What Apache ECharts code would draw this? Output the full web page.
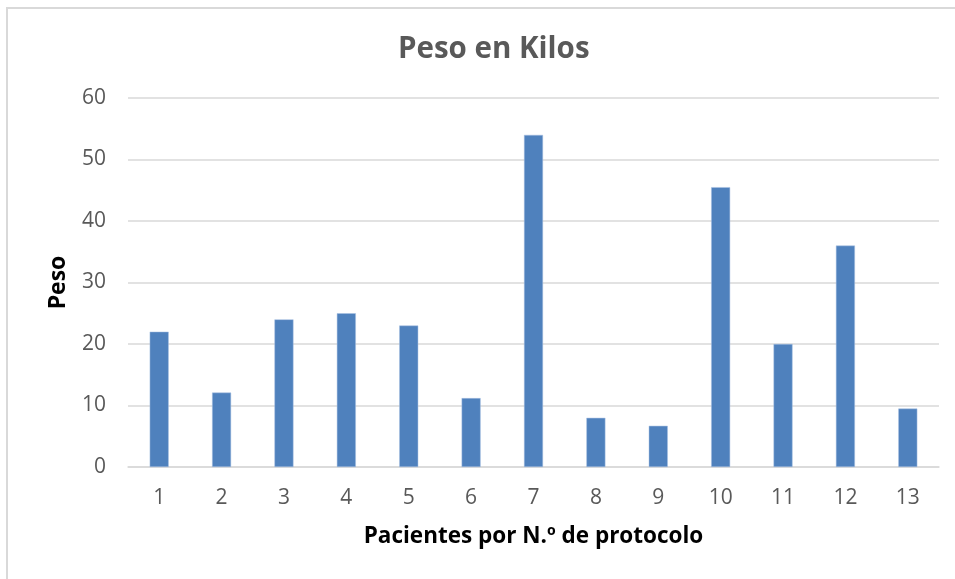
<!DOCTYPE html>
<html>
<head>
<meta charset="utf-8">
<script src="https://cdn.jsdelivr.net/npm/echarts@6/dist/echarts.min.js"></script>
<style>
  html, body { margin: 0; padding: 0; background: #fff; }
  #chart { width: 955px; height: 579px; }
</style>
</head>
<body>
<div id="chart"></div>
<script>
  const categories = ['1', '2', '3', '4', '5', '6', '7', '8', '9', '10', '11', '12', '13'];
  const pesoValues = [22, 12.1, 24, 25, 23, 11.2, 54, 8, 6.7, 45.5, 20, 36, 9.5];
  const yTicks = { min: 0, max: 60, interval: 10 };

  const chart = echarts.init(document.getElementById('chart'), null, { renderer: 'canvas' });

  const font = '"Open Sans", sans-serif';

  const option = {
    backgroundColor: '#fff',
    animation: false,
    graphic: [
      {
        type: 'rect',
        shape: { x: 7, y: 8, width: 1000, height: 1000 },
        style: { fill: 'none', stroke: '#d9d9d9', lineWidth: 2 },
        silent: true,
      },
    ],
    title: {
      text: 'Peso en Kilos',
      left: 393,
      top: 30,
      textStyle: {
        fontFamily: font,
        fontSize: 29.5,
        fontWeight: 'bold',
        color: '#595959',
      },
    },
    grid: {
      left: 128,
      right: 16,
      top: 98,
      bottom: 112,
      containLabel: false,
    },
    xAxis: {
      type: 'category',
      data: categories,
      name: 'Pacientes por N.º de protocolo',
      nameLocation: 'middle',
      nameGap: 58,
      nameTextStyle: {
        fontFamily: font,
        fontSize: 22.5,
        fontWeight: 'bold',
        color: '#000',
      },
      axisLine: { lineStyle: { color: '#d9d9d9', width: 1.5 } },
      axisTick: { show: false },
      axisLabel: {
        fontFamily: font,
        fontSize: 21,
        color: '#595959',
        margin: 21,
      },
    },
    yAxis: {
      type: 'value',
      min: yTicks.min,
      max: yTicks.max,
      interval: yTicks.interval,
      name: 'Peso',
      nameLocation: 'middle',
      nameRotate: 90,
      nameGap: 58,
      nameTextStyle: {
        fontFamily: font,
        fontSize: 23,
        fontWeight: 'bold',
        color: '#000',
      },
      axisLine: { show: false },
      axisTick: { show: false },
      axisLabel: {
        fontFamily: font,
        fontSize: 21,
        color: '#595959',
        margin: 22,
      },
      splitLine: { lineStyle: { color: '#d9d9d9', width: 1.5 } },
    },
    series: [
      {
        name: 'Peso',
        type: 'bar',
        data: pesoValues,
        barWidth: 19,
        itemStyle: { color: '#4f81bd', borderColor: '#a9c1e3', borderWidth: 0.5 },
      },
    ],
  };

  chart.setOption(option);
</script>
</body>
</html>
